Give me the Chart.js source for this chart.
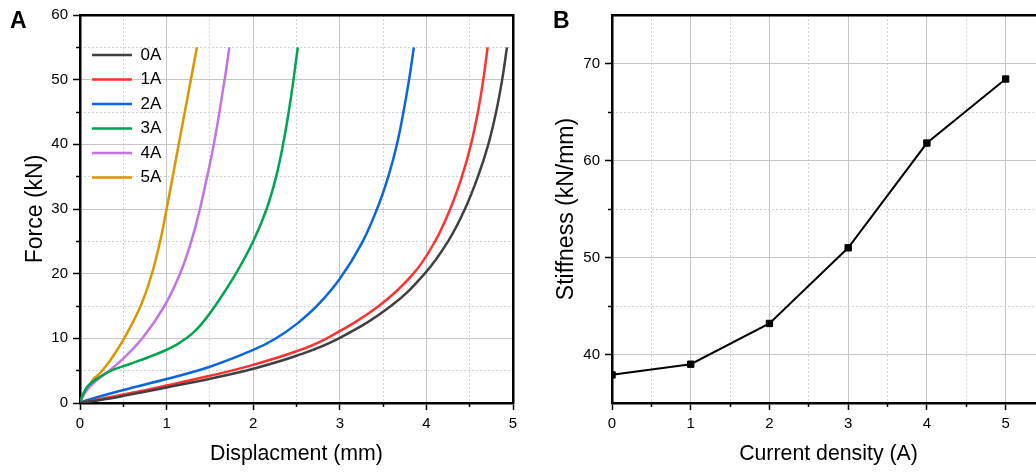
<!DOCTYPE html>
<html><head><meta charset="utf-8">
<script src="https://cdn.jsdelivr.net/npm/chart.js@4"></script>
<style>
html,body{margin:0;padding:0;background:#fff;overflow:hidden;width:1036px;height:472px;}
.plabel{position:absolute;font-family:'Liberation Sans',Arial,sans-serif;font-weight:bold;font-size:23px;line-height:23px;color:#000;}
</style></head><body>
<canvas id="cA" width="530" height="472" style="position:absolute;left:0;top:0"></canvas>
<canvas id="cB" width="530" height="472" style="position:absolute;left:530px;top:0"></canvas>
<div class="plabel" style="left:10px;top:9px">A</div>
<div class="plabel" style="left:553px;top:9px">B</div>
<script>
// ---------- Panel A data: displacement (mm) / force (kN) ----------
const seriesLabelsA = ['0A','1A','2A','3A','4A','5A'];
const dispA0  = [0,0.25,0.5,1.0,1.5,2.0,2.5,2.99,3.59,3.98,4.25,4.445,4.595,4.715,4.805,4.875,4.93];
const forceA0 = [0,0.5,1.1,2.4,3.75,5.3,7.3,10,15,20,25,30,35,40,45,50,55];
const dispA1  = [0,0.25,0.5,1.0,1.5,2.0,2.5,2.85,3.45,3.85,4.10,4.275,4.41,4.515,4.595,4.657,4.707];
const forceA1 = [0,0.65,1.3,2.7,4.2,5.9,8.0,10,15,20,25,30,35,40,45,50,55];
const dispA2  = [0,0.1,0.5,1.0,1.5,2.0,2.25,2.5,2.75,3.0,3.25,3.43,3.56,3.66,3.735,3.80,3.855];
const forceA2 = [0,0.5,2.0,3.7,5.6,8.2,9.9,12.2,15.2,19.2,24.6,30,35,40,45,50,55];
const dispA3  = [0,0.03,0.09,0.2,0.36,0.567,0.777,0.962,1.112,1.227,1.317,1.39,1.56,1.80,2.00,2.155,2.265,2.345,2.41,2.465,2.515];
const forceA3 = [0,1.2,2.6,3.8,5.0,6.0,7.0,8.0,9.0,10,11,12,15,20,25,30,35,40,45,50,55];
const dispA4  = [0,0.05,0.15,0.3,0.47,0.72,0.975,1.155,1.285,1.385,1.545,1.67,1.725];
const forceA4 = [0,1.5,3.0,4.6,6.5,10,15,20,25,30,40,50,55];
const dispA5  = [0,0.04,0.10,0.15,0.23,0.35,0.51,0.70,0.83,0.925,1.0,1.14,1.28,1.35];
const forceA5 = [0,1.2,2.5,3.6,4.6,6.6,10,15,20,25,30,40,50,55];
const xTicksA = [0,1,2,3,4,5];
const xMinorA = [0.5,1.5,2.5,3.5,4.5];
const yTicksA = [0,10,20,30,40,50,60];
const yMinorA = [5,15,25,35,45,55];

// ---------- Panel B data: current density (A) / stiffness (kN/mm) ----------
const currentB = [0,1,2,3,4,5];
const stiffnessB = [37.9,39.0,43.2,51.0,61.8,68.4];
const xTicksB = [0,1,2,3,4,5];
const xMinorB = [0.5,1.5,2.5,3.5,4.5];
const yTicksB = [40,50,60,70];
const yMinorB = [45,55,65];

const colorsA = ['#404040','#ff3232','#0a66de','#00a452','#c274e2','#dc9600'];
const FONT = "'Liberation Sans', Arial, sans-serif";

function fixedTicks(vals){ return s => { s.ticks = vals.map(v => ({value: v})); }; }
function mainAxis(pos, min, max, ticks, title, size, titlePad){
  const horiz = pos === 'bottom';
  return {
    type:'linear', position:pos, min:min, max:max, weight:0,
    afterBuildTicks: fixedTicks(ticks),
    afterFit: s => { if (horiz) s.height = size; else s.width = size; },
    grid:{color:'#c6c6c6', lineWidth:1, tickLength:7, tickColor:'#000', tickWidth:1.5},
    border:{display:true, color:'#000', width:2.5},
    ticks:{padding:5, color:'#000', font:{family:FONT, size:15}, maxRotation:0, autoSkip:false},
    title:{display:true, text:title, color:'#000', font:{family:FONT, size: horiz ? 21.3 : 23},
           padding: horiz ? {top:0, bottom:titlePad} : {top:titlePad, bottom:0}}
  };
}
function minorAxis(pos, min, max, ticks){
  const horiz = pos === 'bottom';
  return {
    type:'linear', position:pos, min:min, max:max, weight:-1,
    afterBuildTicks: fixedTicks(ticks),
    afterFit: s => { if (horiz) s.height = 0; else s.width = 0; },
    grid:{color:'#d2d2d2', lineWidth:1, tickLength:4, tickColor:'#000', tickWidth:1.5},
    border:{display:false, dash:[2,2]},
    ticks:{display:false}
  };
}
function frameAxis(pos, min, max){
  const horiz = pos === 'top';
  return {
    type:'linear', position:pos, min:min, max:max,
    afterFit: s => { if (horiz) s.height = 0; else s.width = 0; },
    grid:{display:false, drawTicks:false},
    border:{display:true, color:'#000', width:2.5},
    ticks:{display:false}
  };
}

const legendNudge = {
  id:'legendNudge',
  afterLayout(chart){
    const l = chart.legend;
    if (l && chart.canvas.id === 'cA') { l.left += 4.5; l.top += 39; }
  }
};

const srcA = [[dispA0,forceA0],[dispA1,forceA1],[dispA2,forceA2],[dispA3,forceA3],[dispA4,forceA4],[dispA5,forceA5]];

new Chart(document.getElementById('cA'), {
  type:'line',
  data:{
    datasets: srcA.map((s, k) => ({
      label: seriesLabelsA[k],
      data: s[0].map((v, i) => ({x: v, y: s[1][i]})),
      borderColor: colorsA[k], backgroundColor: colorsA[k],
      borderWidth: 2.5, pointRadius: 0, fill: false,
      tension: 0.4,
      xAxisID:'x', yAxisID:'y'
    }))
  },
  options:{
    responsive:false, animation:false,
    layout:{padding:{left:0, top:15, right:17, bottom:0}},
    scales:{
      x: mainAxis('bottom', 0, 5, xTicksA, 'Displacment (mm)', 69, 5),
      xm: minorAxis('bottom', 0, 5, xMinorA),
      xt: frameAxis('top', 0, 5),
      y: mainAxis('left', 0, 60, yTicksA, 'Force (kN)', 80, 21.5),
      ym: minorAxis('left', 0, 60, yMinorA),
      yr: frameAxis('right', 0, 60)
    },
    plugins:{
      legend:{display:true, position:'chartArea', align:'start',
        labels:{boxWidth:40, boxHeight:0, padding:7.5, color:'#000', font:{family:FONT, size:17}}},
      tooltip:{enabled:false}
    }
  },
  plugins:[legendNudge]
});

new Chart(document.getElementById('cB'), {
  type:'line',
  data:{
    datasets:[{
      label:'Stiffness',
      data: currentB.map((v, i) => ({x: v, y: stiffnessB[i]})),
      borderColor:'#000', backgroundColor:'#000', borderWidth:2,
      pointStyle:'rect', pointRadius:4.5, pointBackgroundColor:'#000', pointBorderColor:'#000', pointBorderWidth:1,
      tension:0, fill:false, xAxisID:'x', yAxisID:'y'
    }]
  },
  options:{
    responsive:false, animation:false,
    layout:{padding:{left:0, top:15, right:15, bottom:0}},
    scales:{
      x: mainAxis('bottom', 0, 5.5, xTicksB, 'Current density (A)', 69, 5),
      xm: minorAxis('bottom', 0, 5.5, xMinorB),
      xt: frameAxis('top', 0, 5.5),
      y: mainAxis('left', 35, 75, yTicksB, 'Stiffness (kN/mm)', 82, 23.2),
      ym: minorAxis('left', 35, 75, yMinorB),
      yr: frameAxis('right', 35, 75)
    },
    plugins:{ legend:{display:false}, tooltip:{enabled:false} }
  }
});
</script>
</body></html>
